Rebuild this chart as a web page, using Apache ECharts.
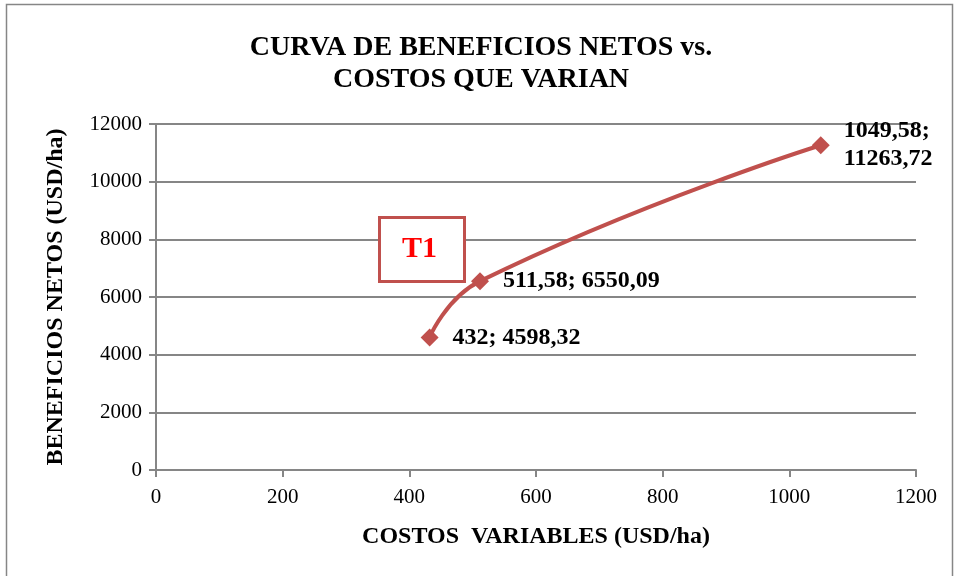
<!DOCTYPE html>
<html>
<head>
<meta charset="utf-8">
<script src="https://cdn.jsdelivr.net/npm/echarts@6/dist/echarts.min.js"></script>
<style>
  html, body { margin: 0; padding: 0; background: #fff; }
  #chart { width: 958px; height: 576px; }
</style>
</head>
<body>
<div id="chart"></div>
<script>
// data
const costos = [432, 511.58, 1049.58];
const beneficios = [4598.32, 6550.09, 11263.72];
const etiquetas = ['432; 4598,32', '511,58; 6550,09', '1049,58;\n11263,72'];

const serif = '"Liberation Serif", "DejaVu Serif", serif';
const rojo = '#C0504D';

let puntos = [];
for (let i = 0; i < costos.length; i++) {
  puntos.push([costos[i], beneficios[i]]);
}

const chart = echarts.init(document.getElementById('chart'));

chart.setOption({
  backgroundColor: '#fff',
  animation: false,
  title: {
    text: 'CURVA DE BENEFICIOS NETOS vs.\nCOSTOS QUE VARIAN',
    left: 476,
    top: 27,
    textAlign: 'center',
    textStyle: {
      fontFamily: serif,
      fontWeight: 'bold',
      fontSize: 28,
      lineHeight: 32,
      color: '#000'
    }
  },
  grid: { left: 156, right: 42, top: 124, bottom: 106 },
  xAxis: {
    type: 'value',
    min: 0,
    max: 1200,
    interval: 200,
    name: 'COSTOS  VARIABLES (USD/ha)',
    nameLocation: 'middle',
    nameGap: 55,
    nameTextStyle: { fontFamily: serif, fontWeight: 'bold', fontSize: 24, color: '#000' },
    axisLine: { lineStyle: { color: '#868686', width: 2 } },
    axisTick: { show: true, length: 7, lineStyle: { color: '#868686', width: 2 } },
    axisLabel: { fontFamily: serif, fontSize: 21, color: '#000', margin: 17, formatter: v => String(v) },
    splitLine: { show: false }
  },
  yAxis: {
    type: 'value',
    min: 0,
    max: 12000,
    interval: 2000,
    name: 'BENEFICIOS NETOS (USD/ha)',
    nameLocation: 'middle',
    nameGap: 88,
    nameTextStyle: { fontFamily: serif, fontWeight: 'bold', fontSize: 24, color: '#000' },
    axisLine: { show: true, lineStyle: { color: '#868686', width: 2 } },
    axisTick: { show: true, length: 7, lineStyle: { color: '#868686', width: 2 } },
    axisLabel: { fontFamily: serif, fontSize: 21, color: '#000', margin: 14, formatter: v => String(v) },
    splitLine: { lineStyle: { color: '#868686', width: 2 } }
  },
  series: [{
    type: 'line',
    data: puntos,
    smooth: 0.5,
    symbol: 'diamond',
    symbolSize: 18,
    lineStyle: { color: rojo, width: 4 },
    itemStyle: { color: rojo },
    label: {
      show: true,
      position: 'right',
      distance: 14,
      fontFamily: serif,
      fontWeight: 'bold',
      fontSize: 24,
      lineHeight: 28,
      color: '#000',
      formatter: p => etiquetas[p.dataIndex]
    }
  }],
  graphic: [
    {
      type: 'rect',
      left: 4,
      top: 2,
      z: 100,
      shape: { width: 946, height: 578 },
      style: { fill: null, stroke: '#868686', lineWidth: 1.5 }
    },
    {
      type: 'rect',
      left: 378,
      top: 216,
      z: 100,
      shape: { width: 85, height: 64 },
      style: { fill: '#fff', stroke: rojo, lineWidth: 3 }
    },
    {
      type: 'text',
      left: 402,
      top: 234,
      z: 101,
      style: { text: 'T1', fontFamily: serif, fontWeight: 'bold', fontSize: 30, fill: '#FF0000' }
    }
  ]
});
</script>
</body>
</html>
